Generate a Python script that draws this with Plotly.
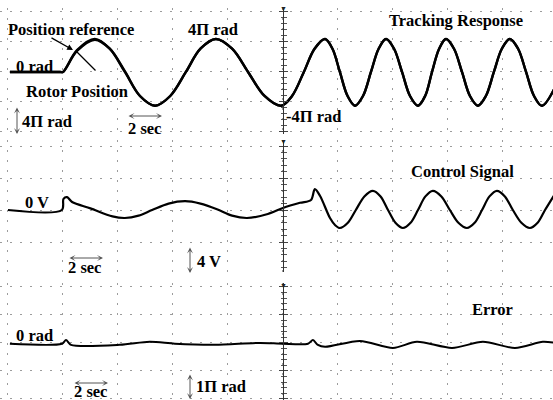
import plotly.graph_objects as go

# ---------------- data (time in s, 2 s per division; center of screen at 10 s) -------------
# Tracking response, position in units of pi rad (4*pi rad per division)
pos_t = [0.07, 1.9, 2.0, 2.51, 3.16, 3.7, 4.25, 4.8, 5.35, 5.9, 6.47, 7.0, 7.56, 8.15,
         8.73, 9.33, 9.93, 10.33, 10.76, 11.15, 11.53, 11.8, 12.07, 12.35, 12.62, 12.91,
         13.2, 13.48, 13.75, 14.04, 14.33, 14.62, 14.91, 15.17, 15.42, 15.68, 15.93, 16.22,
         16.51, 16.8, 17.09, 17.38, 17.67, 17.96, 18.25, 18.55, 18.84, 19.13, 19.42, 19.9]
pos_reference = [0, 0, 0, 2.9, 4.4, 3.1, 0, -3.2, -4.5, -3.2, 0, 3.1, 4.4, 3.1,
                 0, -3.2, -4.5, -3.2, 0, 3.1, 4.4, 3.1, 0, -3.2, -4.5, -3.2,
                 0, 3.1, 4.4, 3.1, 0, -3.2, -4.5, -3.2, 0, 3.1, 4.4, 3.1,
                 0, -3.2, -4.5, -3.2, 0, 3.1, 4.4, 3.1, 0, -3.2, -4.5, -2.0]
rotor_position = [0, 0, 0, 2.8, 4.3, 3.1, 0.1, -3.2, -4.5, -3.2, 0, 3.1, 4.4, 3.1,
                  0, -3.2, -4.5, -3.2, 0, 3.1, 4.4, 3.1, 0, -3.2, -4.5, -3.2,
                  0, 3.1, 4.4, 3.1, 0, -3.2, -4.5, -3.2, 0, 3.1, 4.4, 3.1,
                  0, -3.2, -4.5, -3.2, 0, 3.1, 4.4, 3.1, 0, -3.2, -4.5, -2.0]

# Control signal in V (4 V per division)
ctl_t = [0.0, 1.96, 2.02, 2.15, 2.33, 3.0, 3.8, 4.25, 4.75, 5.24, 5.84, 6.44, 7.0, 7.6,
         8.15, 8.69, 9.45, 10.0, 10.62, 11.02, 11.16, 11.35, 11.71, 11.9, 12.07, 12.36,
         12.65, 12.96, 13.27, 13.55, 13.82, 14.09, 14.36, 14.64, 14.91, 15.18, 15.45,
         15.76, 16.07, 16.38, 16.69, 16.97, 17.24, 17.51, 17.78, 18.07, 18.36, 18.67,
         18.98, 19.26, 19.53, 19.89]
ctl_v = [0, 0, 1.4, 1.6, 1.0, 0.2, -0.8, -1.0, -0.7, 0, 0.8, 1.1, 0.8, 0.1,
         -0.7, -1.0, -0.5, 0.25, 0.9, 1.25, 2.6, 1.75, -1.0, -1.9, -2.25, -1.6,
         0, 1.7, 2.4, 1.7, 0, -1.6, -2.25, -1.6, 0, 1.7, 2.4,
         1.7, 0, -1.6, -2.25, -1.6, 0, 1.7, 2.4, 1.7, 0, -1.6,
         -2.25, -1.6, 0, 2.0]

# Error in units of pi rad (1*pi rad per division)
err_t = [0.07, 1.96, 2.11, 2.29, 4.07, 5.16, 6.07, 7.53, 9.16, 10.0, 10.91, 11.09, 11.27,
         11.53, 12.8, 14.0, 14.87, 16.15, 17.27, 18.44, 19.45, 19.89]
err_v = [-0.03, -0.03, 0.1, -0.07, -0.07, 0.04, -0.03, -0.07, 0.0, -0.03, -0.03, 0.1, -0.07,
         -0.14, 0.07, -0.18, 0.04, -0.18, 0.04, -0.18, 0.04, 0.0]

# ---------------- figure -------------
W, H = 553, 400
FONT = "Liberation Serif"
GRID = "#9c9c9c"
CENTER_POS = 283 / W


def px(x):
    return x / W


def py(y):
    return 1 - y / H


fig = go.Figure()
line_main = dict(color="black", width=2.4, shape="spline", smoothing=1.0)
fig.add_trace(go.Scatter(x=pos_t, y=pos_reference, mode="lines", line=line_main,
                         name="Position reference", xaxis="x", yaxis="y"))
fig.add_trace(go.Scatter(x=pos_t, y=rotor_position, mode="lines", line=line_main,
                         name="Rotor Position", xaxis="x", yaxis="y"))
fig.add_trace(go.Scatter(x=ctl_t, y=ctl_v, mode="lines",
                         line=dict(color="black", width=2.2, shape="spline", smoothing=0.9),
                         name="Control Signal", xaxis="x2", yaxis="y2"))
fig.add_trace(go.Scatter(x=err_t, y=err_v, mode="lines",
                         line=dict(color="black", width=2.0, shape="spline", smoothing=0.8),
                         name="Error", xaxis="x3", yaxis="y3"))
# helper traces so the overlay (tick) axes are drawn
for ya, xa in (("y4", "x"), ("y5", "x2"), ("y6", "x3")):
    fig.add_trace(go.Scatter(x=[None], y=[None], xaxis=xa, yaxis=ya, showlegend=False,
                             hoverinfo="skip"))

x_range = [-0.29, 19.82]
xcommon = dict(range=x_range, showgrid=True, gridcolor=GRID, griddash="2px,8px", gridwidth=1,
               tick0=0, dtick=2, showticklabels=False, zeroline=False, showline=False,
               ticks="")


def yax(domain, rng, dtick, minor, ticks, grid=True, overlay=None):
    d = dict(domain=domain, range=rng, anchor="free", position=CENTER_POS,
             showline=True, linecolor="#333", linewidth=1, ticks=ticks, ticklen=4,
             tickcolor="#444", tickwidth=1, tick0=0, dtick=dtick, showticklabels=False,
             showgrid=grid, gridcolor=GRID, griddash="2px,8px", gridwidth=1, zeroline=False,
             minor=dict(dtick=minor, ticks=ticks, ticklen=2.5, tickcolor="#555",
                        showgrid=False))
    if overlay:
        d["overlaying"] = overlay
    return d


d1 = [1 - 134 / H, 1 - 8 / H]
d2 = [1 - 272 / H, 1 - 140 / H]
d3 = [0, 1 - 283 / H]
r1 = [-8.27, 8.53]
r2 = [-7.75, 8.75]
r3 = [-2.04, 2.14]

fig.update_layout(
    width=W, height=H, margin=dict(l=0, r=0, t=0, b=0),
    paper_bgcolor="white", plot_bgcolor="white", showlegend=False,
    xaxis=dict(xcommon, anchor="y"),
    xaxis2=dict(xcommon, anchor="y2", matches="x"),
    xaxis3=dict(xcommon, anchor="y3", matches="x"),
    yaxis=yax(d1, r1, 4, 0.8, "outside"),
    yaxis2=yax(d2, r2, 4, 0.8, "outside"),
    yaxis3=yax(d3, r3, 1, 0.2, "outside"),
    yaxis4=yax(d1, r1, 4, 0.8, "inside", grid=False, overlay="y"),
    yaxis5=yax(d2, r2, 4, 0.8, "inside", grid=False, overlay="y2"),
    yaxis6=yax(d3, r3, 1, 0.2, "inside", grid=False, overlay="y3"),
)

FS = 16.5
labels = [
    ("Position reference", 7, 29),
    ("4Π rad", 187, 30),
    ("0 rad", 15, 66),
    ("Rotor Position", 25, 91),
    ("4Π rad", 21, 121),
    ("2 sec", 127, 128),
    ("Tracking Response", 388, 21),
    ("-4Π rad", 285, 116),
    ("Control Signal", 410, 171),
    ("0 V", 24, 202),
    ("2 sec", 67, 267),
    ("4 V", 196, 261),
    ("0 rad", 15, 335),
    ("2 sec", 73, 391),
    ("1Π rad", 195, 386),
    ("Error", 471, 309),
]
for txt, x, y in labels:
    fig.add_annotation(text=f"<b>{txt}</b>", x=px(x), y=py(y), xref="paper", yref="paper",
                       xanchor="left", yanchor="middle", showarrow=False, borderpad=0,
                       font=dict(family=FONT, size=FS, color="black"))

# pointer arrows to the curves
fig.add_annotation(x=px(73), y=py(50), xref="paper", yref="paper", text="", showarrow=True,
                   ax=-23, ay=-13, arrowhead=2, arrowsize=0.9, arrowwidth=1.3,
                   arrowcolor="black")
fig.add_annotation(x=px(77), y=py(52), xref="paper", yref="paper", text="", showarrow=True,
                   ax=20, ay=20, arrowhead=0, arrowwidth=1.3, arrowcolor="black")

# scale double arrows: (head x, head y, ax, ay)
for hx, hy, ax, ay in [(162, 116, -35, 0), (103, 258, -35, 0), (108, 383, -35, 0),
                       (17, 134, 0, -28), (190, 273, 0, -27), (190, 399, 0, -26)]:
    fig.add_annotation(x=px(hx), y=py(hy), xref="paper", yref="paper", text="",
                       showarrow=True, ax=ax, ay=ay, arrowhead=3, startarrowhead=3,
                       arrowside="end+start", arrowsize=1, arrowwidth=1,
                       arrowcolor="#555")

# trigger markers at top of center axis
for y in (8, 141, 285):
    fig.add_annotation(text="▼", x=CENTER_POS, y=py(y), xref="paper", yref="paper",
                       showarrow=False, font=dict(size=7, color="#222"), yanchor="middle")

fig.write_html("out.html")
